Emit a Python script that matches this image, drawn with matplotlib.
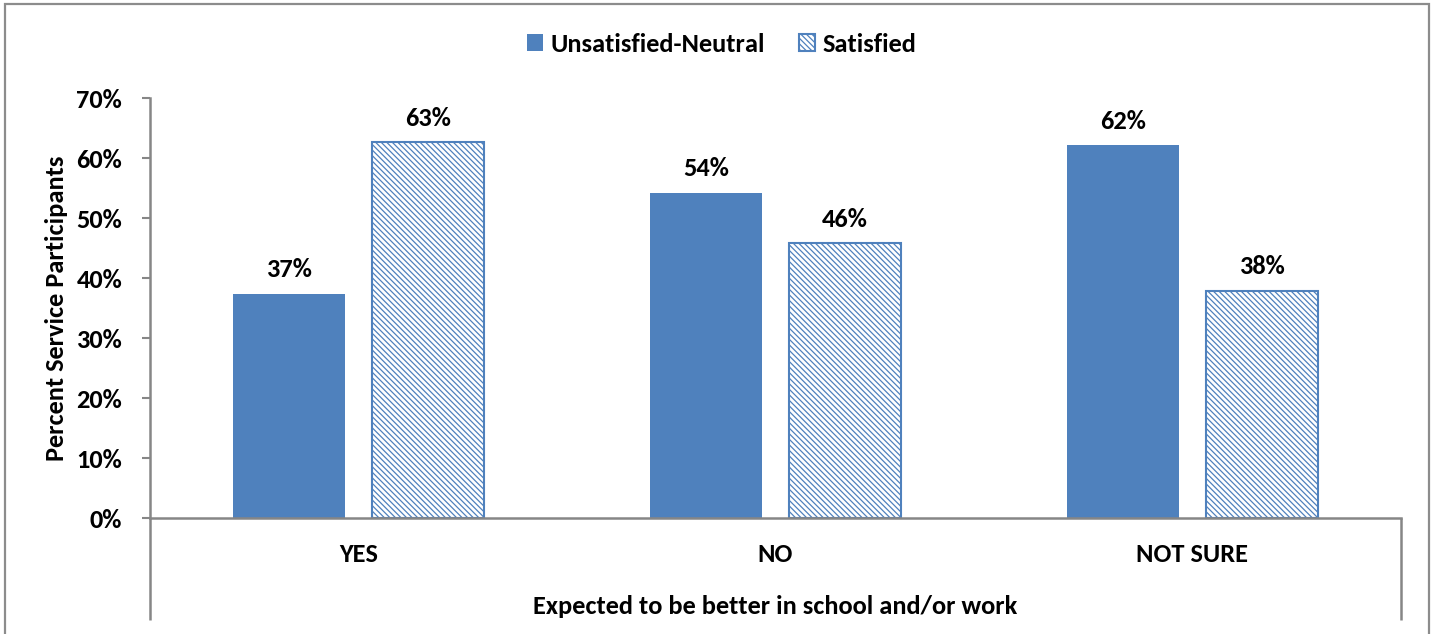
import matplotlib
matplotlib.use("Agg")
import matplotlib.pyplot as plt
import numpy as np
from matplotlib.patches import Rectangle

# Survey results
categories = ["YES", "NO", "NOT SURE"]
unsatisfied_neutral = [37.4, 54.2, 62.1]
satisfied = [62.6, 45.8, 37.9]
series_names = ["Unsatisfied-Neutral", "Satisfied"]
y_ticks = [0, 10, 20, 30, 40, 50, 60, 70]

BLUE = "#4F81BD"
GRAY = "#868686"
FS = 19

plt.rcParams["font.family"] = "Carlito"
plt.rcParams["font.weight"] = "bold"
plt.rcParams["hatch.linewidth"] = 0.9

W, H = 1435, 634
fig = plt.figure(figsize=(W / 100, H / 100), dpi=100)

# outer chart frame
fig.patches.append(Rectangle((4.5 / W, -0.02), (1429 - 4.5) / W, (H - 4.5) / H + 0.02,
                             transform=fig.transFigure, fill=False,
                             edgecolor="#8c8c8c", linewidth=1.6))

x0, x1, y0, y1 = 150, 1401, 518, 98
ax = fig.add_axes([x0 / W, (H - y0) / H, (x1 - x0) / W, (y0 - y1) / H])

x = np.arange(len(categories))
bw = 0.268
gap = 0.065
off = (bw + gap) / 2

b1 = ax.bar(x - off, unsatisfied_neutral, bw, color=BLUE, edgecolor=BLUE,
            linewidth=0, label=series_names[0])
b2 = ax.bar(x + off, satisfied, bw, facecolor="white", edgecolor=BLUE,
            linewidth=1.5, hatch="\\" * 6, label=series_names[1])

for bars, vals in ((b1, unsatisfied_neutral), (b2, satisfied)):
    for r, v in zip(bars, vals):
        ax.annotate(f"{v:.0f}%", (r.get_x() + r.get_width() / 2, v),
                    xytext=(0, 9), textcoords="offset points",
                    ha="center", va="bottom", fontsize=FS, fontweight="bold",
                    color="black")

ax.set_xlim(-0.5, len(categories) - 0.5)
ax.set_ylim(0, 70)
ax.set_yticks(y_ticks)
ax.set_yticklabels([f"{t}%" for t in y_ticks], fontweight="bold")
ax.set_xticks(x)
ax.set_xticklabels(categories, fontweight="bold")

ax.tick_params(axis="y", length=6, width=1.5, color=GRAY, pad=14, labelsize=FS)
ax.tick_params(axis="x", length=0, pad=18, labelsize=FS)

for s in ("top", "right"):
    ax.spines[s].set_visible(False)
for s in ("left", "bottom"):
    ax.spines[s].set_color(GRAY)
    ax.spines[s].set_linewidth(1.8)

# category axis end dividers extending below the baseline
ext = -(620 - 518) / (518 - 98)
for xa in (0, 1):
    ax.plot([xa, xa], [0, ext], transform=ax.transAxes, color=GRAY,
            linewidth=1.8, clip_on=False, solid_capstyle="butt")

ax.set_ylabel("Percent Service Participants", fontsize=FS, fontweight="bold",
              va="center")
ax.yaxis.set_label_coords((57 - 150) / (1401 - 150), 0.5)
ax.set_xlabel("Expected to be better in school and/or work", fontsize=FS,
              fontweight="bold", va="center")
ax.xaxis.set_label_coords(0.5, (518 - 606) / (518 - 98))

ax.legend(loc="center", bbox_to_anchor=(722 / W, 1 - 44 / H),
          bbox_transform=fig.transFigure, ncol=2, frameon=False,
          handlelength=0.6, handleheight=0.6,
          handletextpad=0.28, columnspacing=1.3,
          prop={"family": "Carlito", "weight": "bold", "size": FS})

fig.savefig("out.png", dpi=100)
